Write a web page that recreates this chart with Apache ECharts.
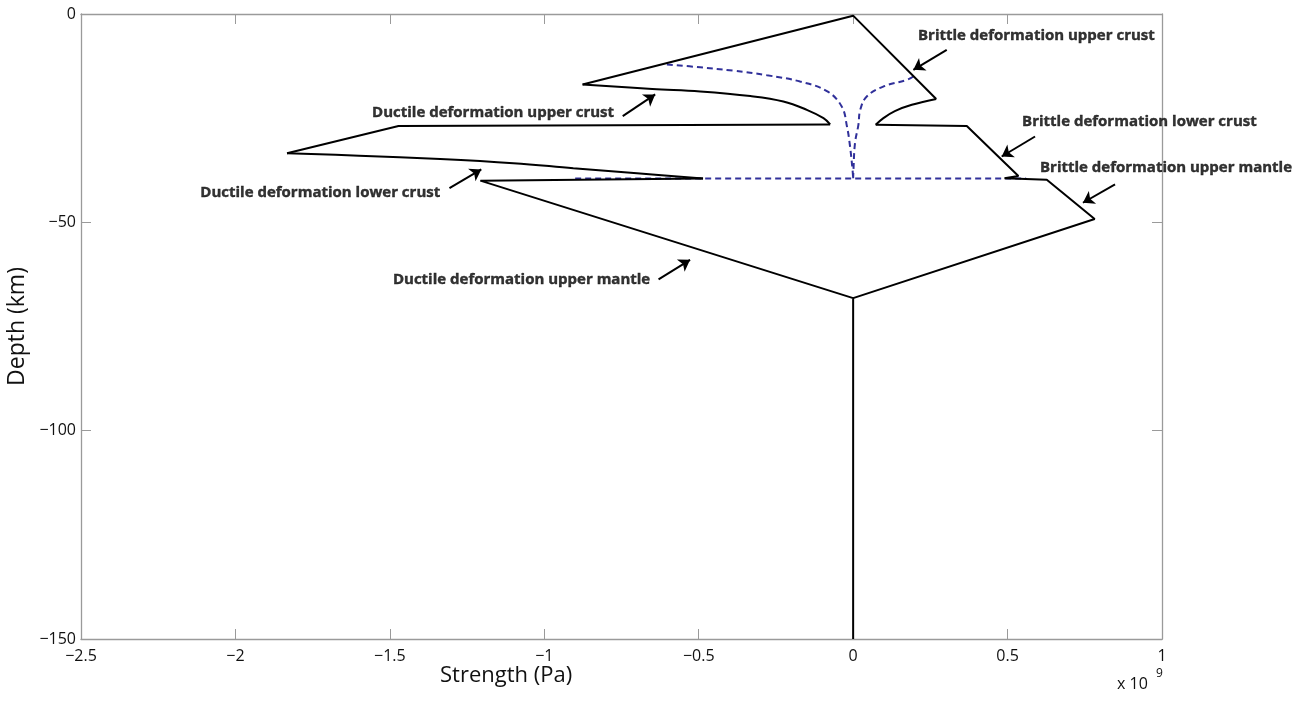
<!DOCTYPE html>
<html>
<head>
<meta charset="utf-8">
<script src="https://cdn.jsdelivr.net/npm/echarts@6/dist/echarts.min.js"></script>
<style>
  html, body { margin: 0; padding: 0; background: #fff; }
  #main { width: 1314px; height: 703px; }
</style>
</head>
<body>
<div id="main"></div>
<script>
// strength envelope (x in 1e9 Pa, y = depth in km), split into straight and curved parts
var mantleStrength = [-0.486, -1.207, 0, 0];
var mantleDepth = [-39.5, -40.0, -68.2, -150];
var lowerDuctileStrength = [-0.486, -0.7, -0.906, -1.1, -1.337, -1.6, -1.833];
var lowerDuctileDepth = [-39.5, -38.2, -37.0, -35.8, -34.8, -34.0, -33.4];
var crustLeftStrength = [-1.833, -1.472, -0.0745];
var crustLeftDepth = [-33.4, -26.9, -26.5];
var upperDuctileStrength = [-0.0745, -0.096, -0.150, -0.226, -0.333, -0.495, -0.65, -0.876];
var upperDuctileDepth = [-26.5, -25.0, -23.0, -21.0, -19.7, -18.6, -18.0, -16.9];
var brittleTopStrength = [-0.876, 0, 0.269];
var brittleTopDepth = [-16.9, -0.4, -20.4];
var rightDuctileStrength = [0.269, 0.19, 0.135, 0.098, 0.073];
var rightDuctileDepth = [-20.4, -21.8, -23.3, -25.0, -26.6];
var brittleRightStrength = [0.073, 0.368, 0.535, 0.49, 0.627, 0.782, 0];
var brittleRightDepth = [-26.6, -26.9, -38.9, -39.4, -39.8, -49.2, -68.2];

// dashed curves
var dashLeftStrength = [-0.603, -0.495, -0.388, -0.279, -0.172, -0.085, -0.037, -0.020, -0.010, -0.002, 0];
var dashLeftDepth = [-12.1, -12.8, -13.6, -14.7, -16.2, -18.5, -22.2, -27.0, -31.8, -37.4, -39.4];
var dashRightStrength = [0.195, 0.174, 0.098, 0.044, 0.023, 0.017, 0.006, 0.001, 0];
var dashRightDepth = [-15.0, -15.8, -17.4, -19.8, -23.0, -26.6, -31.0, -37.4, -39.4];
var dashFlatStrength = [-0.9, 0.56];
var dashFlatDepth = [-39.5, -39.5];

// annotations
var noteTexts = ['Brittle deformation upper crust', 'Ductile deformation upper crust',
    'Brittle deformation lower crust', 'Brittle deformation upper mantle',
    'Ductile deformation lower crust', 'Ductile deformation upper mantle'];
var noteX = [0.210, -0.774, 0.547, 0.605, -1.337, -0.657];
var noteY = [-5.3, -23.8, -25.9, -37.0, -43.0, -63.8];
var noteSide = ['right', 'left', 'right', 'right', 'left', 'left'];
var arrowFrom = [[0.303, -8.6], [-0.746, -24.5], [0.589, -29.4], [0.848, -40.9], [-1.307, -41.8], [-0.630, -63.7]];
var arrowTo = [[0.195, -13.4], [-0.641, -19.3], [0.481, -34.2], [0.744, -45.3], [-1.204, -37.3], [-0.528, -59.0]];

function zip(a, b) {
    var out = [];
    for (var i = 0; i < a.length; i++) out.push([a[i], b[i]]);
    return out;
}
function minus(v) {
    return String(v).replace('-', '\u2212');
}

var chart = echarts.init(document.getElementById('main'), null, { renderer: 'canvas' });

var axisGray = '#9a9a9a';
var fontFam = '"Open Sans", Lato, sans-serif';
var dashColor = '#30309a';

function solid(name, xs, ys, smooth) {
    return {
        name: name, type: 'line', data: zip(xs, ys),
        symbol: 'none', smooth: smooth || false,
        lineStyle: { color: '#000', width: 2 }
    };
}
function dashed(name, xs, ys, smooth) {
    return {
        name: name, type: 'line', data: zip(xs, ys),
        symbol: 'none', smooth: smooth || false,
        lineStyle: { color: dashColor, width: 2, type: [6, 4] }
    };
}

var option = {
    backgroundColor: '#fff',
    animation: false,
    grid: { left: 81, right: 152, top: 14, bottom: 64, outerBoundsMode: 'none' },
    xAxis: [
        {
            type: 'value', min: -2.5, max: 1, interval: 0.5, position: 'bottom',
            axisLine: { onZero: false, lineStyle: { color: axisGray, width: 1.3 } },
            axisTick: { inside: true, length: 10, lineStyle: { color: axisGray } },
            axisLabel: { color: '#111', fontSize: 16, fontFamily: fontFam, margin: 9, formatter: minus },
            splitLine: { show: false }
        },
        {
            type: 'value', min: -2.5, max: 1, interval: 0.5, position: 'top',
            axisLine: { onZero: false, lineStyle: { color: axisGray, width: 1.3 } },
            axisTick: { inside: true, length: 10, lineStyle: { color: axisGray } },
            axisLabel: { show: false },
            splitLine: { show: false }
        }
    ],
    yAxis: [
        {
            type: 'value', min: -150, max: 0, interval: 50, position: 'left',
            name: 'Depth (km)', nameLocation: 'middle', nameGap: 41, nameRotate: 90,
            nameTextStyle: { color: '#111', fontSize: 23, fontFamily: fontFam },
            axisLine: { onZero: false, lineStyle: { color: axisGray, width: 1.3 } },
            axisTick: { inside: true, length: 10, lineStyle: { color: axisGray } },
            axisLabel: { color: '#111', fontSize: 16, fontFamily: fontFam, margin: 5, formatter: minus },
            splitLine: { show: false }
        },
        {
            type: 'value', min: -150, max: 0, interval: 50, position: 'right',
            axisLine: { onZero: false, lineStyle: { color: axisGray, width: 1.3 } },
            axisTick: { inside: true, length: 10, lineStyle: { color: axisGray } },
            axisLabel: { show: false },
            splitLine: { show: false }
        }
    ],
    graphic: [
        {
            type: 'text', left: 440, top: 665,
            style: { text: 'Strength (Pa)', fill: '#111', font: '22px ' + fontFam }
        },
        {
            type: 'text', left: 1117, top: 676,
            style: { text: 'x 10', fill: '#111', font: '16px ' + fontFam }
        },
        {
            type: 'text', left: 1156, top: 668,
            style: { text: '9', fill: '#111', font: '12px ' + fontFam }
        }
    ],
    series: [
        dashed('dash-left', dashLeftStrength, dashLeftDepth, 0.4),
        dashed('dash-right', dashRightStrength, dashRightDepth, 0.4),
        dashed('dash-flat', dashFlatStrength, dashFlatDepth),
        solid('mantle', mantleStrength, mantleDepth),
        solid('lower-ductile', lowerDuctileStrength, lowerDuctileDepth, 0.4),
        solid('crust-left', crustLeftStrength, crustLeftDepth),
        solid('upper-ductile', upperDuctileStrength, upperDuctileDepth, 0.4),
        solid('brittle-top', brittleTopStrength, brittleTopDepth),
        solid('right-ductile', rightDuctileStrength, rightDuctileDepth, 0.4),
        solid('brittle-right', brittleRightStrength, brittleRightDepth),
        {
            name: 'arrows', type: 'lines', coordinateSystem: 'cartesian2d',
            symbol: ['none', 'arrow'], symbolSize: 11,
            lineStyle: { color: '#000', width: 2, opacity: 1 },
            data: arrowFrom.map(function (p, i) { return { coords: [p, arrowTo[i]] }; })
        },
        {
            name: 'notes', type: 'scatter', symbolSize: 0,
            data: noteTexts.map(function (t, i) {
                return {
                    name: t, value: [noteX[i], noteY[i]],
                    label: { position: noteSide[i] }
                };
            }),
            label: {
                show: true, distance: 0, formatter: '{b}',
                color: '#000', fontSize: 15, fontWeight: 'bold', fontFamily: fontFam,
                textBorderColor: '#000', textBorderWidth: 0.4
            }
        }
    ]
};
chart.setOption(option);
</script>
</body>
</html>
